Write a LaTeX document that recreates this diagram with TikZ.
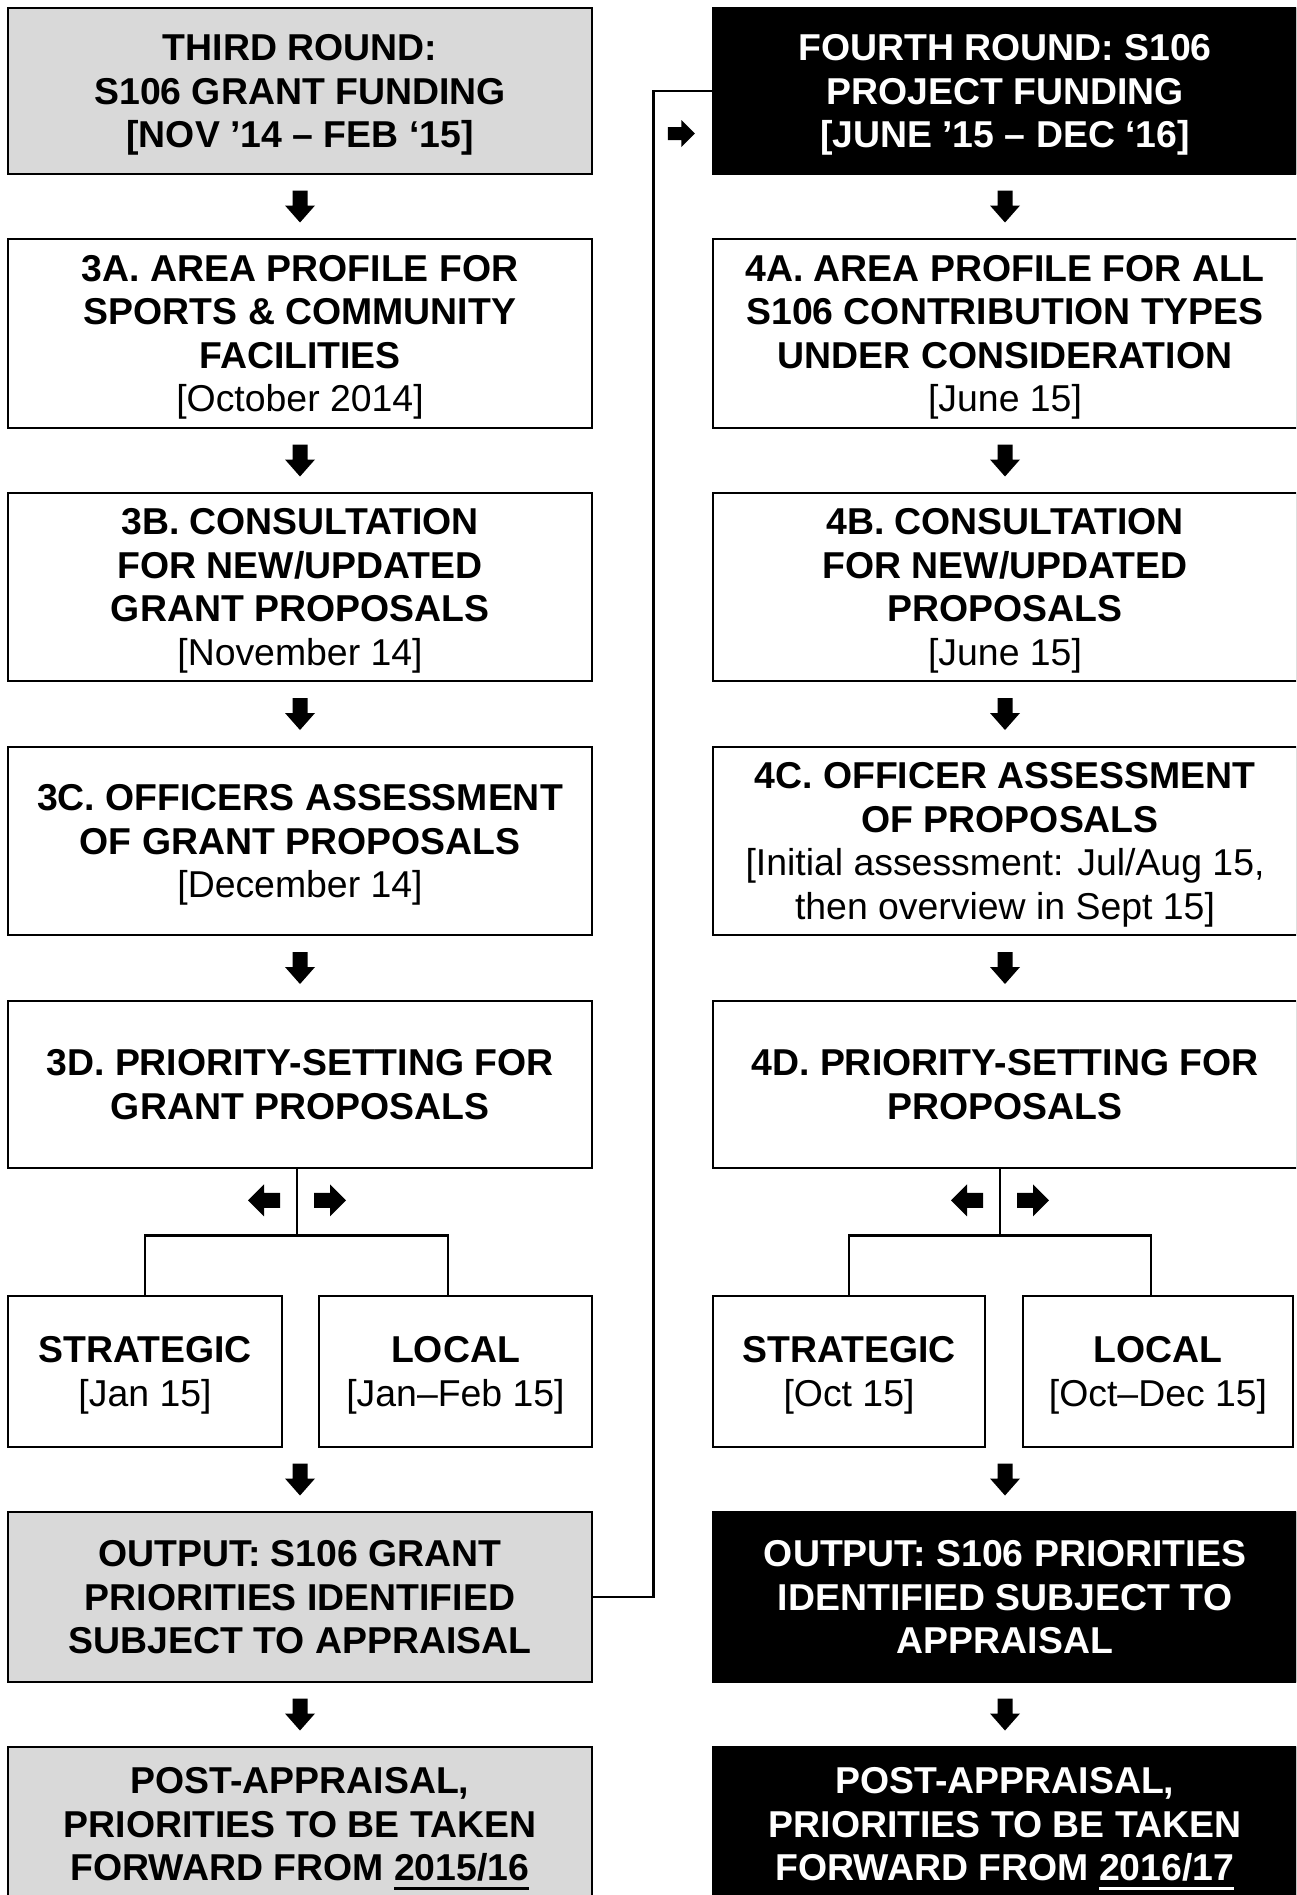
\documentclass[tikz,border=0pt]{standalone}
\usepackage{fontspec}
\setmainfont{Liberation Sans}
\usetikzlibrary{calc}

\definecolor{panelgray}{HTML}{D9D9D9}

% thick underline for the target year
\newcommand\yearline[1]{\setbox0\hbox{#1}\rlap{\raisebox{-4.6pt}{\rule{\wd0}{1.2pt}}}\box0}

\begin{document}
\begin{tikzpicture}[x=0.5pt,y=-0.5pt,
  every node/.style={inner sep=0pt, align=center, text depth=0pt,
    font=\fontsize{18.7}{21.75}\selectfont\bfseries},
  stage/.style 2 args={draw=black, line width=1.25pt,
    minimum width=#1*0.5pt, minimum height=#2*0.5pt},
  greystage/.style 2 args={stage={#1}{#2}, fill=panelgray},
  darkstage/.style 2 args={stage={#1}{#2}, fill=black, text=white},
  link/.style={line width=1.25pt},
  pics/downarrow/.style={code={
    \fill (-7.5,-16) -- (7.5,-16) -- (7.5,-1) -- (15,-1) -- (0,16)
          -- (-15,-1) -- (-7.5,-1) -- cycle;}},
  pics/rightarrow/.style={code={
    \fill (-16,-7.5) -- (0,-7.5) -- (0,-16) -- (16,0) -- (0,16)
          -- (0,7.5) -- (-16,7.5) -- cycle;}},
  pics/leftarrow/.style={code={
    \fill (16,-7.5) -- (0,-7.5) -- (0,-16) -- (-16,0) -- (0,16)
          -- (0,7.5) -- (16,7.5) -- cycle;}},
  pics/smallright/.style={code={
    \fill (-13.5,-6.5) -- (0,-6.5) -- (0,-13.5) -- (13.5,0) -- (0,13.5)
          -- (0,6.5) -- (-13.5,6.5) -- cycle;}},
]
\clip (0,0) rectangle (1296,1895);
\fill[white] (0,0) rectangle (1296,1895);

% ---------------- third round ----------------
\node[greystage={584}{166}] (t3) at (300,91)
  {THIRD ROUND:\\S106 GRANT FUNDING\\{[NOV ’14 – FEB ‘15]}};
\node[stage={584}{189}] (a3) at (300,333.5)
  {3A. AREA PROFILE FOR\\SPORTS \& COMMUNITY\\FACILITIES\\\textmd{[October 2014]}};
\node[stage={584}{188}] (b3) at (300,587)
  {3B. CONSULTATION\\FOR NEW/UPDATED\\GRANT PROPOSALS\\\textmd{[November 14]}};
\node[stage={584}{188}] (c3) at (300,841)
  {3C. OFFICERS ASSESSMENT\\OF GRANT PROPOSALS\\\textmd{[December 14]}};
\node[stage={584}{167}] (d3) at (300,1084.5)
  {3D. PRIORITY-SETTING FOR\\GRANT PROPOSALS};
\node[stage={274}{151}] (s3) at (145,1371.5)
  {STRATEGIC\\\textmd{[Jan 15]}};
\node[stage={273}{151}] (l3) at (455.5,1371.5)
  {LOCAL\\\textmd{[Jan–Feb 15]}};
\node[greystage={584}{170}] (o3) at (300,1597)
  {OUTPUT: S106 GRANT\\PRIORITIES IDENTIFIED\\SUBJECT TO APPRAISAL};
\node[greystage={584}{154}] (p3) at (300,1824)
  {POST-APPRAISAL,\\PRIORITIES TO BE TAKEN\\FORWARD FROM \yearline{2015/16}};

% ---------------- fourth round ----------------
\node[darkstage={584}{166}] (t4) at (1005,91)
  {FOURTH ROUND: S106\\PROJECT FUNDING\\{[JUNE ’15 – DEC ‘16]}};
\node[stage={584}{189}] (a4) at (1005,333.5)
  {4A. AREA PROFILE FOR ALL\\S106 CONTRIBUTION TYPES\\UNDER CONSIDERATION\\\textmd{[June 15]}};
\node[stage={584}{188}] (b4) at (1005,587)
  {4B. CONSULTATION\\FOR NEW/UPDATED\\PROPOSALS\\\textmd{[June 15]}};
\node[stage={584}{188}] (c4) at (1005,841)
  {4C. OFFICER ASSESSMENT\\\hspace*{0.278em}OF PROPOSALS\\\textmd{[Initial assessment: Jul/Aug 15,}\\\textmd{then overview in Sept 15]}};
\node[stage={584}{167}] (d4) at (1005,1084.5)
  {4D. PRIORITY-SETTING FOR\\PROPOSALS};
\node[stage={272}{151}] (s4) at (849,1371.5)
  {STRATEGIC\\\textmd{[Oct 15]}};
\node[stage={270}{151}] (l4) at (1158,1371.5)
  {LOCAL\\\textmd{[Oct–Dec 15]}};
\node[darkstage={584}{170}] (o4) at (1005,1597)
  {OUTPUT: S106 PRIORITIES\\IDENTIFIED SUBJECT TO\\APPRAISAL};
\node[darkstage={584}{154}] (p4) at (1005,1824)
  {POST-APPRAISAL,\\PRIORITIES TO BE TAKEN\\FORWARD FROM \color{white}\yearline{2016/17}};

% ---------------- step arrows ----------------
\foreach \r in {3,4}{
  \pic at ($(t\r.south)!0.5!(a\r.north)$) {downarrow};
  \pic at ($(a\r.south)!0.5!(b\r.north)$) {downarrow};
  \pic at ($(b\r.south)!0.5!(c\r.north)$) {downarrow};
  \pic at ($(c\r.south)!0.5!(d\r.north)$) {downarrow};
  \pic at ($(s\r.south -| o\r.north)!0.5!(o\r.north)$) {downarrow};
  \pic at ($(o\r.south)!0.5!(p\r.north)$) {downarrow};
}

% ---------------- priority split ----------------
\coordinate (j3) at ($(d3.south)+(-3,66)$);
\draw[link] (d3.south -| j3) -- (j3);
\draw[link] (s3.north) |- (j3) -| ($(l3.north)+(-7.5,0)$);
\pic at ($(j3)+(-33,-35)$) {leftarrow};
\pic at ($(j3)+(33,-35)$) {rightarrow};

\coordinate (j4) at ($(d4.south)+(-5,66)$);
\draw[link] (d4.south -| j4) -- (j4);
\draw[link] (s4.north) |- (j4) -| ($(l4.north)+(-7,0)$);
\pic at ($(j4)+(-33,-35)$) {leftarrow};
\pic at ($(j4)+(33,-35)$) {rightarrow};

% ---------------- hand-over to the fourth round ----------------
\draw[link] (o3.east) -- ++(60,0) |- (t4.west);
\pic at ($(t4.west)+(-30.5,42.5)$) {smallright};

\end{tikzpicture}
\end{document}
